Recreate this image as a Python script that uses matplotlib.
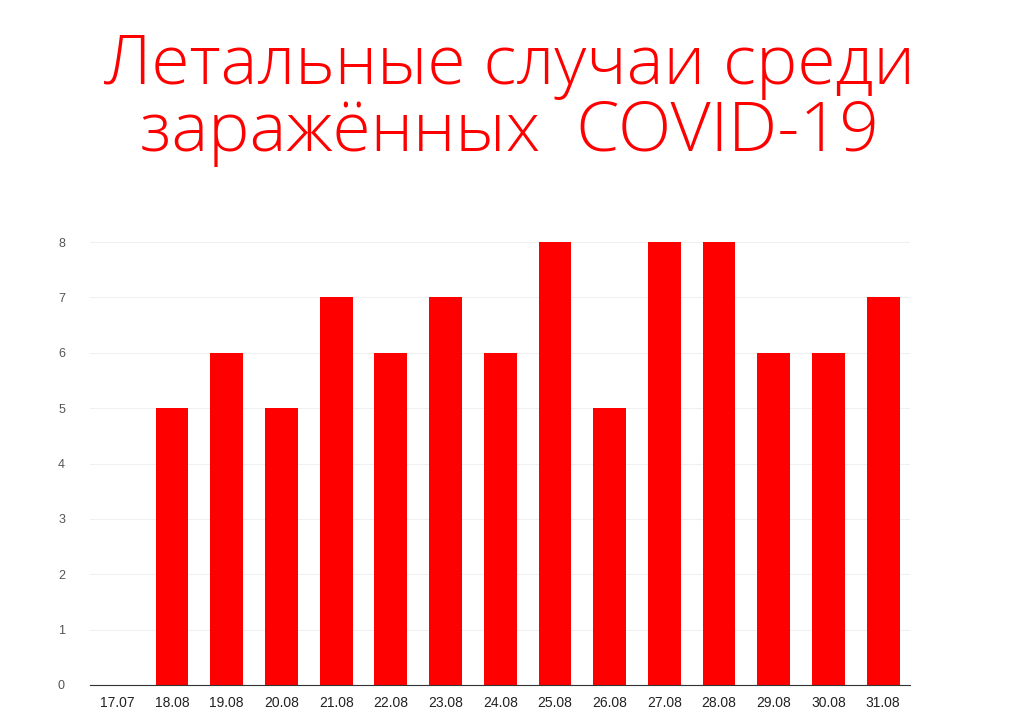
import matplotlib
matplotlib.use("Agg")
import matplotlib.pyplot as plt
import numpy as np

# data
dates = ["17.07", "18.08", "19.08", "20.08", "21.08", "22.08", "23.08", "24.08",
         "25.08", "26.08", "27.08", "28.08", "29.08", "30.08", "31.08"]
deaths = [0, 5, 6, 5, 7, 6, 7, 6, 8, 5, 8, 8, 6, 6, 7]
yticks = [0, 1, 2, 3, 4, 5, 6, 7, 8]

plt.rcParams["font.family"] = ["Liberation Sans", "DejaVu Sans"]

fig = plt.figure(figsize=(10.18, 7.19), dpi=100)
ax = fig.add_axes([0.0884, 0.0473, 0.806, 0.616])

x = np.arange(len(dates))
ax.bar(x, deaths, width=0.6, color="#ff0000", zorder=2)

ax.set_xlim(-0.5, len(dates) - 0.5)
ax.set_ylim(0, 8)
ax.set_yticks(yticks)
ax.set_xticks(x)
ax.set_xticklabels(dates)
ax.grid(axis="y", color="#f0f0f0", linewidth=0.8, zorder=0)
for s in ["top", "right", "left"]:
    ax.spines[s].set_visible(False)
ax.spines["bottom"].set_color("#333333")
ax.tick_params(axis="both", length=0)
ax.tick_params(axis="y", labelsize=9, labelcolor="#555555", pad=18)
ax.tick_params(axis="x", labelsize=10, labelcolor="#222222", pad=8)

fig.text(0.5, 0.862, "Летальные случаи среди\nзаражённых  COVID-19",
         ha="center", va="center", color="#ff0000", fontsize=50,
         family=["Open Sans", "DejaVu Sans"], fontweight="light", linespacing=0.98)

fig.savefig("out.png", dpi=100)
